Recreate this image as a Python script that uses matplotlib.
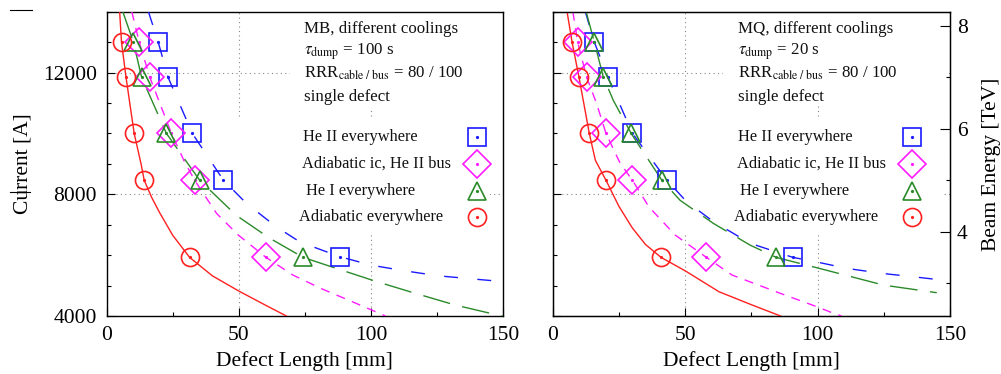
import numpy as np
import matplotlib.pyplot as plt
from matplotlib.patches import Rectangle
from matplotlib.lines import Line2D
from matplotlib.ticker import MultipleLocator

plt.rcParams['font.family'] = ['Liberation Serif', 'DejaVu Serif']
plt.rcParams['mathtext.fontset'] = 'stix'

# quench current levels of the computed points [A]
current_pts = [13000, 11850, 10000, 8460, 5925]

# beam energy scale: 7 TeV at 11850 A
nominal_current = 11850
nominal_energy = 7.0

labels = ['He II everywhere', 'Adiabatic ic, He II bus',
          'He I everywhere', 'Adiabatic everywhere']

# MB, tau = 100 s : defect length of computed points [mm]
mb_he2_x = [19.5, 23.2, 32.4, 44.2, 88.2]
mb_adic_x = [12.3, 16.3, 24.5, 33.3, 60.3]
mb_he1_x = [10.1, 13.2, 22.6, 35.2, 74.4]
mb_adia_x = [5.6, 7.3, 10.4, 14.2, 31.4]

# MB fitted curves
mb_he2_cx = [15.8, 19.5, 23.2, 32.4, 44.2, 52.9, 64.2, 73.2, 88.2, 100.1, 112.7, 125.6, 139.5, 150]
mb_he2_cy = [14000, 13000, 11850, 10000, 8460, 7700, 6930, 6430, 5950, 5670, 5485, 5320, 5210, 5130]
mb_adic_cx = [9.5, 12.3, 16.3, 24.5, 29.5, 33.3, 41.6, 49.8, 60.3, 70.5, 81.6, 90.5, 101.8, 105.5]
mb_adic_cy = [14000, 13000, 11850, 10000, 9060, 8460, 7370, 6660, 5925, 5345, 4885, 4560, 4140, 4000]
mb_he1_cx = [6.1, 10.1, 13.2, 22.6, 35.2, 49, 61.6, 74.4, 86.7, 101.8, 116.8, 131.9, 150]
mb_he1_cy = [14000, 13000, 11850, 10000, 8460, 7310, 6560, 5925, 5570, 5140, 4745, 4360, 3990]
mb_adia_cx = [4.9, 5.6, 7.3, 10.4, 13.0, 14.2, 17, 20, 25, 31.4, 40, 50, 60, 68]
mb_adia_cy = [14000, 13000, 11850, 10000, 9000, 8460, 7900, 7400, 6650, 5925, 5320, 4820, 4360, 4000]

# MQ, tau = 20 s : defect length of computed points [mm]
mq_he2_x = [15.7, 20.8, 30.1, 43.1, 90.7]
mq_adic_x = [9.4, 12.8, 20.1, 30.1, 57.9]
mq_he1_x = [15.7, 19.1, 29.6, 41.2, 84.4]
mq_adia_x = [7.3, 9.9, 13.8, 20.1, 40.9]

# MQ fitted curves
mq_he2_cx = [12.3, 15.7, 20.8, 30.1, 43.1, 50.6, 60.7, 74.5, 90.7, 97.8, 111, 124.3, 138.1, 150]
mq_he2_cy = [14000, 13000, 11850, 10000, 8460, 7750, 7100, 6390, 5925, 5810, 5565, 5400, 5270, 5150]
mq_adic_cx = [7.6, 9.4, 12.8, 16.6, 20.1, 25.5, 30.1, 36.3, 46.3, 57.7, 67.7, 85.9, 99.7, 106, 109]
mq_adic_cy = [14000, 13000, 11850, 10970, 10000, 9010, 8460, 7585, 6655, 5945, 5345, 4745, 4305, 4090, 4000]
mq_he1_cx = [12.6, 15.7, 19.1, 22.9, 29.6, 41.2, 48.1, 60.7, 74.5, 84.4, 103.5, 124.9, 145]
mq_he1_cy = [14000, 13000, 11850, 11080, 10000, 8460, 7800, 7040, 6330, 5925, 5500, 5015, 4765]
mq_adia_cx = [5.4, 7.3, 9.9, 13.8, 16.1, 20.1, 25, 30, 35, 40.9, 50.1, 62.7, 75.3, 86]
mq_adia_cy = [14000, 13000, 11850, 10000, 9115, 8460, 7600, 6900, 6350, 5925, 5480, 4800, 4360, 4000]

colors = ['#1a1aff', '#ff1aff', '#2a8a2a', '#ff2020']
markers = ['s', 'D', '^', 'o']
msizes = [13, 14, 12.5, 13]
dashes = [(10, 14), (6.5, 5.5), (20, 9), None]

fig = plt.figure(figsize=(10.01, 3.74), dpi=100)
axl = fig.add_axes([0.1066, 0.1551, 0.3959, 0.8136])
axr = fig.add_axes([0.5522, 0.1551, 0.3969, 0.8136])


def draw_panel(ax, pts_x, curves, title, tau, text_x, leg_x, mark_x, tbox_x, tbox_y, kbox_x0, kbox_x1):
    ax.set_xlim(0, 150)
    ax.set_ylim(4000, 14000)
    ax.xaxis.set_major_locator(MultipleLocator(50))
    ax.xaxis.set_minor_locator(MultipleLocator(25))
    ax.yaxis.set_major_locator(MultipleLocator(4000))
    ax.yaxis.set_minor_locator(MultipleLocator(1000))
    ax.tick_params(which='both', direction='in', top=False, right=False, labelsize=15.5)
    ax.tick_params(which='major', length=6, width=0.8)
    ax.tick_params(which='minor', length=3, width=0.8)
    ax.tick_params(axis='y', pad=7)
    ax.tick_params(axis='x', pad=7)
    for s in ax.spines.values():
        s.set_linewidth(1.0)
    ax.set_axisbelow(True)
    ax.grid(True, which='major', ls=(0, (1, 3)), color='#888888', lw=0.8)

    # opaque boxes behind the annotation and the key
    ax.add_patch(Rectangle((tbox_x, tbox_y), 1 - tbox_x - 0.003, 1 - tbox_y - 0.003,
                           transform=ax.transAxes, fc='white', ec='none', zorder=1))
    ax.add_patch(Rectangle((kbox_x0, 0.273), kbox_x1 - kbox_x0, 0.374,
                           transform=ax.transAxes, fc='white', ec='none', zorder=1))

    for i in range(4):
        cx, cy = curves[i]
        ln, = ax.plot(cx, cy, color=colors[i], lw=1.0, zorder=3)
        if dashes[i] is not None:
            ln.set_dashes(dashes[i])
        ax.plot(pts_x[i], current_pts, ls='none', marker=markers[i], ms=msizes[i],
                mfc='none', mec=colors[i], mew=1.2, zorder=4)
        ax.plot(pts_x[i], current_pts, ls='none', marker='o', ms=1.3,
                color=colors[i], zorder=4)

    lines = [title, r'$\tau_{\rm dump}$ = ' + tau,
             r'RRR$_{\rm cable\ /\ bus}$ = 80 / 100', 'single defect']
    ys = [0.943, 0.870, 0.799, 0.720]
    for t, y in zip(lines, ys):
        ax.text(text_x, y, t, transform=ax.transAxes, fontsize=12.2, va='center',
                color='#111111', zorder=5)

    key_y = [0.587, 0.500, 0.412, 0.325]
    for i in range(4):
        ax.text(leg_x[i], key_y[i], labels[i], transform=ax.transAxes, fontsize=11.8,
                va='center', color='#111111', zorder=5)
        ax.plot([mark_x], [key_y[i]], transform=ax.transAxes, marker=markers[i],
                ms=msizes[i], mfc='none', mec=colors[i], mew=1.2, ls='none',
                clip_on=False, zorder=5)
        ax.plot([mark_x], [key_y[i]], transform=ax.transAxes, marker='o', ms=1.3,
                color=colors[i], ls='none', clip_on=False, zorder=5)

    ax.set_xlabel('Defect Length [mm]', fontsize=15.5, va='center')
    ax.xaxis.set_label_coords(0.5, -0.147)


draw_panel(axl, [mb_he2_x, mb_adic_x, mb_he1_x, mb_adia_x],
           [(mb_he2_cx, mb_he2_cy), (mb_adic_cx, mb_adic_cy),
            (mb_he1_cx, mb_he1_cy), (mb_adia_cx, mb_adia_cy)],
           'MB, different coolings', '100 s', 0.497,
           [0.496, 0.493, 0.503, 0.486], 0.935, 0.4625, 0.6835, 0.268, 0.967)
draw_panel(axr, [mq_he2_x, mq_adic_x, mq_he1_x, mq_adia_x],
           [(mq_he2_cx, mq_he2_cy), (mq_adic_cx, mq_adic_cy),
            (mq_he1_cx, mq_he1_cy), (mq_adia_cx, mq_adia_cy)],
           'MQ, different coolings', '20 s', 0.467,
           [0.466, 0.463, 0.472, 0.456], 0.904, 0.429, 0.70, 0.2625, 0.983)

axl.set_ylabel('Current [A]', fontsize=15.5, va='center')
axl.yaxis.set_label_coords(-0.212, 0.5)
axr.tick_params(labelleft=False)

# beam energy axis on the right
k = nominal_energy / nominal_current
ax2 = axr.twinx()
ax2.set_ylim(4000 * k, 14000 * k)
ax2.yaxis.set_major_locator(MultipleLocator(2))
ax2.yaxis.set_minor_locator(MultipleLocator(1))
ax2.tick_params(which='both', direction='in', labelsize=15.5, pad=5)
ax2.tick_params(which='major', length=7, width=0.8)
ax2.tick_params(which='minor', length=3, width=0.8)
ax2.set_ylabel('Beam Energy [TeV]', fontsize=15.5, va='center')
ax2.yaxis.set_label_coords(1.105, 0.5)

# stray frame marks at the left edge
fig.add_artist(Line2D([10 / 1001, 32 / 1001], [1 - 10 / 374, 1 - 10 / 374], color='black', lw=0.8))
fig.add_artist(Line2D([10 / 1001, 30 / 1001], [1 - 192 / 374, 1 - 192 / 374], color='black', lw=0.8))

fig.savefig('out.png', dpi=100)
